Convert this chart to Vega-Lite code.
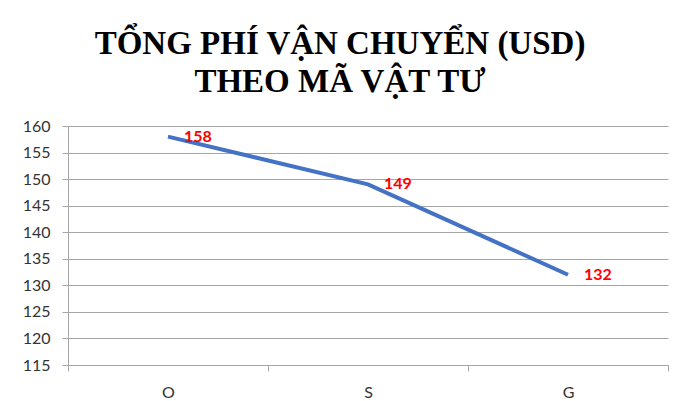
{
  "$schema": "https://vega.github.io/schema/vega-lite/v6.json",
  "autosize": {"type": "none"},
  "padding": {"left": 68, "top": 126, "right": 10, "bottom": 36},
  "width": 600,
  "height": 239,
  "background": "white",
  "title": {
    "text": ["TỔNG PHÍ VẬN CHUYỂN (USD)", "THEO MÃ VẬT TƯ"],
    "font": "Liberation Serif",
    "fontSize": 33,
    "fontWeight": "bold",
    "color": "#000000",
    "lineHeight": 38,
    "anchor": "middle",
    "frame": "group",
    "dx": -28,
    "offset": 19
  },
  "data": {
    "values": [
      {"ma": "O", "phi": 158},
      {"ma": "S", "phi": 149},
      {"ma": "G", "phi": 132}
    ]
  },
  "encoding": {
    "x": {
      "field": "ma",
      "type": "nominal",
      "sort": null,
      "scale": {"type": "band", "paddingInner": 0, "paddingOuter": 0},
      "axis": {
        "title": null,
        "labelAngle": 0,
        "labelFont": "Lato",
        "labelFontSize": 16,
        "labelColor": "#333333",
        "labelPadding": 13,
        "domainColor": "#A6A6A6",
        "tickColor": "#A6A6A6",
        "tickBand": "extent",
        "tickSize": 6,
        "grid": false
      }
    },
    "y": {
      "field": "phi",
      "type": "quantitative",
      "scale": {"domain": [115, 160], "nice": false, "zero": false},
      "axis": {
        "title": null,
        "values": [115, 120, 125, 130, 135, 140, 145, 150, 155, 160],
        "labelFont": "Lato",
        "labelFontSize": 16,
        "labelColor": "#333333",
        "labelPadding": 12,
        "tickSize": 6,
        "domainColor": "#A6A6A6",
        "tickColor": "#A6A6A6",
        "gridColor": "#A6A6A6",
        "gridWidth": 1
      }
    }
  },
  "layer": [
    {
      "mark": {"type": "line", "color": "#4472C4", "strokeWidth": 4}
    },
    {
      "mark": {
        "type": "text",
        "align": "left",
        "baseline": "middle",
        "dx": 16,
        "font": "Lato",
        "fontSize": 16,
        "fontWeight": "bold",
        "color": "#FF0000"
      },
      "encoding": {"text": {"field": "phi", "type": "quantitative"}}
    }
  ],
  "config": {"view": {"stroke": null}}
}
